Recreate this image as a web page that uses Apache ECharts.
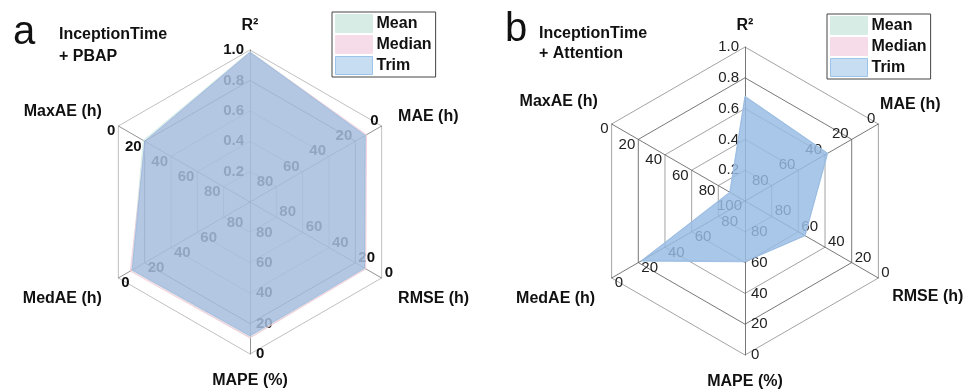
<!DOCTYPE html>
<html><head><meta charset="utf-8">
<script src="https://cdn.jsdelivr.net/npm/echarts@6/dist/echarts.min.js"></script>
<style>html,body{margin:0;padding:0;background:#fff}#c{width:965px;height:390px}</style>
</head><body><div id="c"></div>
<script>
// indicator order (ECharts radar runs counter-clockwise from the top)
const indicatorNames = ['R²', 'MaxAE (h)', 'MedAE (h)', 'MAPE (%)', 'RMSE (h)', 'MAE (h)'];
const axisMax = [1, 100, 100, 100, 100, 100];
const seriesNames = ['Mean', 'Median', 'Trim'];
// panel a: InceptionTime + PBAP
const pbapMean   = [0.99, 19, 10, 11, 12.5, 12];
const pbapMedian = [0.985, 20.5, 9, 10.5, 12, 11.5];
const pbapTrim   = [0.985, 20, 10.5, 12, 13, 12.5];
// panel b: InceptionTime + Attention
const attnMean   = [0.68, 89, 22, 61, 55, 38];
const attnMedian = [0.675, 89, 22.5, 61, 55, 38.5];
const attnTrim   = [0.68, 88.5, 22, 60.5, 55, 38];

const FONT = 'Liberation Sans, Arial, sans-serif';
const fillColorsA = ['#c9e6dc', '#f0c6d6', '#8fb5e0'];
const fillOpacityA = [0.4, 0.4, 0.6];
const fillColorsB = ['#c9e6dc', '#f0c6d6', '#8ab8e6'];
const fillOpacityB = [0.25, 0.25, 0.7];
const legendColors = ['#d6ece4', '#f6dce8', '#c7ddf2'];

// axis-name placement tweaks per indicator: [gap, padding]
const nameStyleA = [[16, 0], [19, [0, 0, 10, 0]], [19, [23, 0, 0, 0]], [19, 0], [19, [23, 0, 0, 0]], [19, 0]];
const nameStyleB = [[13, 0], [16, [0, 0, 29, 0]], [19, [23, 0, 0, 0]], [19, 0], [16, [22, 0, 0, 0]], [2, [0, 0, 36, 0]]];

// error axes are drawn inverted: 0 at the rim, max at the centre
function toPlot(vals) { return vals.map((v, i) => i === 0 ? v : axisMax[i] - v); }

function makeIndicators(showCenterMaxAE, nameStyle) {
  return indicatorNames.map((n, i) => {
    const ind = { name: n, min: 0, max: axisMax[i], nameGap: nameStyle[i][0], axisNameGap: nameStyle[i][0] };
    if (i === 0) {
      ind.axisLabel = { formatter: v => (Math.round(v * 10) / 10).toFixed(1), showMinLabel: false };
    } else {
      ind.axisLabel = { formatter: v => String(Math.round(axisMax[i] - v)), showMinLabel: (i === 1 && showCenterMaxAE) };
    }
    return ind;
  });
}

function makeRadar(center, radius, bold, nameStyle) {
  const inner = bold ? '#b0b0b0' : '#8c8c8c';
  const rich = {};
  nameStyle.forEach((s, i) => {
    rich['s' + i] = { padding: s[1], fontSize: 16, fontWeight: 'bold', color: '#111', fontFamily: FONT };
  });
  return {
    center: center, radius: radius, startAngle: 90, splitNumber: 5, shape: 'polygon',
    indicator: makeIndicators(!bold, nameStyle),
    axisName: {
      color: '#111', fontSize: 16, fontWeight: 'bold', fontFamily: FONT, rich: rich,
      formatter: (name) => '{s' + indicatorNames.indexOf(name) + '|' + name + '}'
    },
    nameGap: 19,
    splitArea: { show: false },
    splitLine: { lineStyle: { color: [inner, inner, inner, inner, '#555'], width: 0.8 } },
    axisLine: { lineStyle: { color: bold ? '#777' : '#555', width: 0.8 } },
    axisTick: { show: false },
    axisLabel: { show: true, color: bold ? '#111' : '#222', fontSize: 15, fontWeight: bold ? 'bold' : 'normal', fontFamily: FONT, margin: 6 }
  };
}

function makeSeries(radarIndex, arrays, colors, opac) {
  return {
    type: 'radar', radarIndex: radarIndex, symbol: 'none', z: 3,
    data: arrays.map((arr, k) => ({
      name: seriesNames[k], value: toPlot(arr),
      itemStyle: { color: legendColors[k] },
      lineStyle: { color: colors[k], width: 1, opacity: 0.7 },
      areaStyle: { color: colors[k], opacity: opac[k] }
    }))
  };
}

function makeLegend(left, top) {
  return {
    left: left, top: top, orient: 'vertical', padding: [2, 4, 2, 3], itemGap: 2,
    itemWidth: 37, itemHeight: 18, borderColor: '#444', borderWidth: 1, selectedMode: false,
    icon: 'rect',
    textStyle: { fontSize: 16, fontWeight: 'bold', color: '#111', fontFamily: FONT, padding: [0, 0, 0, -1] },
    data: seriesNames.map((n, k) => ({ name: n, itemStyle: { color: legendColors[k], borderColor: k === 2 ? '#9cc3ea' : legendColors[k], borderWidth: 1 } }))
  };
}

const chart = echarts.init(document.getElementById('c'), null, { renderer: 'canvas' });
chart.setOption({
  animation: false,
  textStyle: { fontFamily: FONT },
  title: [
    { text: 'a', left: 8, top: 8, textStyle: { fontSize: 40, fontWeight: 'normal', color: '#111', fontFamily: FONT } },
    { text: 'InceptionTime\n+ PBAP', left: 54, top: 19, textStyle: { fontSize: 16, fontWeight: 'bold', color: '#111', lineHeight: 22, fontFamily: FONT } },
    { text: 'b', left: 500, top: 5, textStyle: { fontSize: 40, fontWeight: 'normal', color: '#111', fontFamily: FONT } },
    { text: 'InceptionTime\n+ Attention', left: 534, top: 19, textStyle: { fontSize: 16, fontWeight: 'bold', color: '#111', lineHeight: 20, fontFamily: FONT } }
  ],
  legend: [makeLegend(332, 12), makeLegend(827, 14)],
  radar: [makeRadar([250, 202], 152, true, nameStyleA), makeRadar([745, 201], 154, false, nameStyleB)],
  series: [
    makeSeries(0, [pbapMean, pbapMedian, pbapTrim], fillColorsA, fillOpacityA),
    makeSeries(1, [attnMean, attnMedian, attnTrim], fillColorsB, fillOpacityB)
  ]
});
</script>
</body></html>
